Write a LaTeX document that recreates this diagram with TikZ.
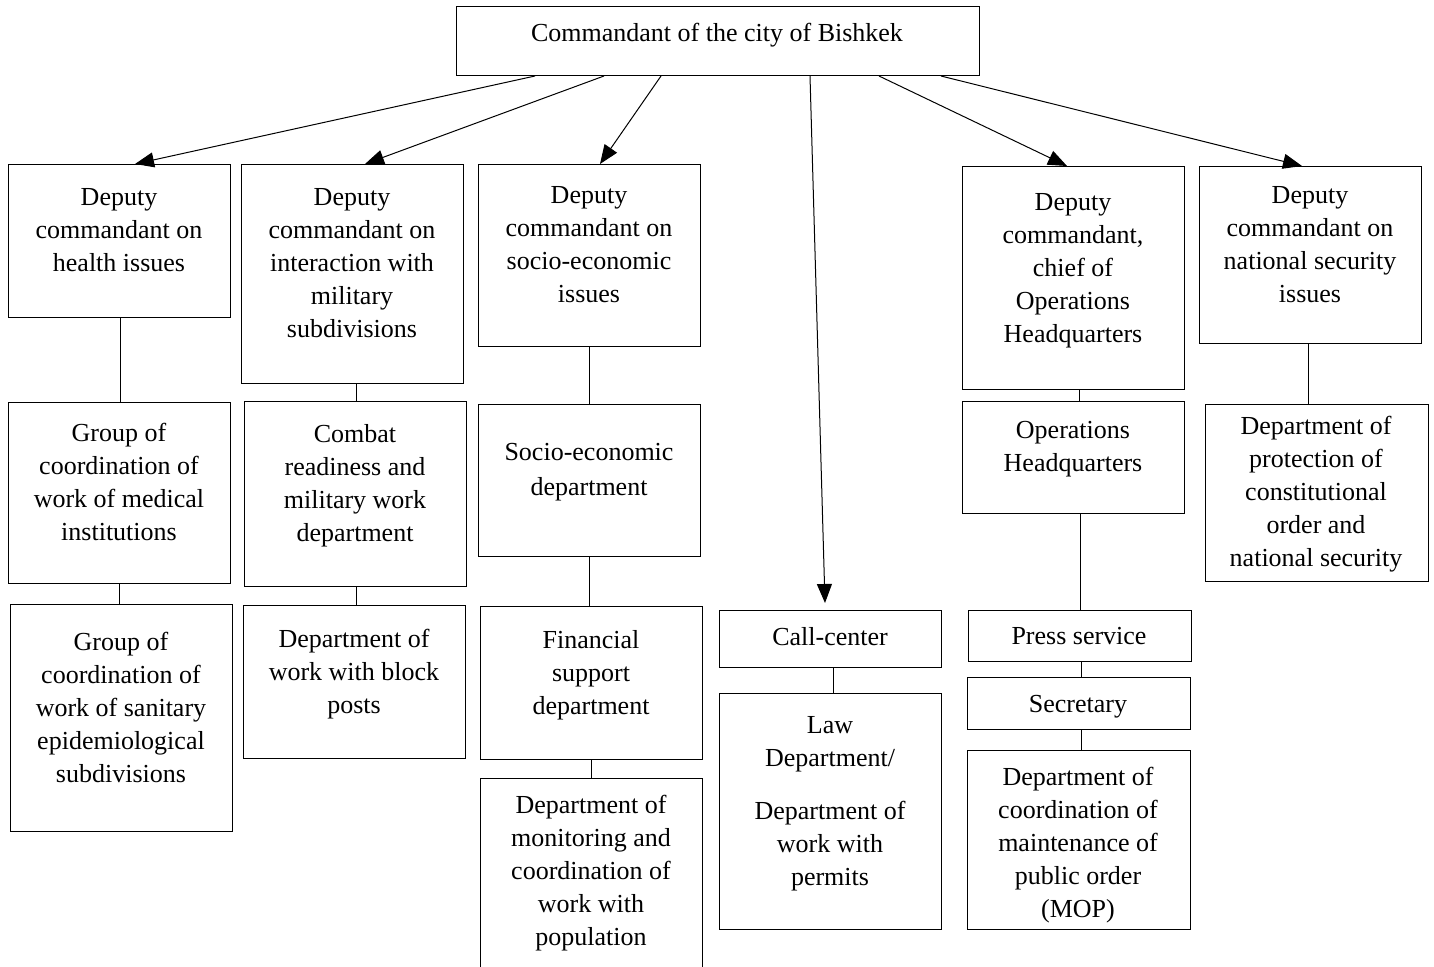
\documentclass[tikz,border=0pt]{standalone}
\usepackage{fontspec}
\setmainfont{Liberation Serif}
\usetikzlibrary{arrows.meta}
\tikzset{
  box/.style={draw=black, line width=1pt, rectangle, inner sep=0pt, anchor=north west},
  txt/.style={align=center, inner sep=0pt, anchor=north, yshift=-2pt, font=\fontsize{26}{33}\selectfont},
  link/.style={draw=black, line width=1pt},
  arr/.style={draw=black, line width=1pt, -{Triangle[length=19pt,width=15pt]}}
}
\newcommand\mkbox[6]{%
  \node[box, minimum width=#4pt, minimum height=#5pt] (#1) at (#2,#3) {};}
\begin{document}
\begin{tikzpicture}[x=1pt,y=-1pt]
\clip (0,0) rectangle (1434,966);
\fill[white] (0,0) rectangle (1434,966);
% boxes: name, x, y, width, height
\mkbox{T}{456}{6}{523}{69}{}
\mkbox{A1}{8}{164}{222}{153}{}
\mkbox{B1}{241}{164}{222}{219}{}
\mkbox{C1}{478}{164}{222}{182}{}
\mkbox{E1}{962}{166}{222}{223}{}
\mkbox{F1}{1199}{166}{222}{177}{}
\mkbox{A2}{8}{402}{222}{181}{}
\mkbox{B2}{244}{401}{222}{185}{}
\mkbox{C2}{478}{404}{222}{152}{}
\mkbox{E2}{962}{401}{222}{112}{}
\mkbox{F2}{1205}{404}{223}{177}{}
\mkbox{A3}{10}{604}{222}{227}{}
\mkbox{B3}{243}{605}{222}{153}{}
\mkbox{C3}{480}{606}{222}{153}{}
\mkbox{C4}{480}{778}{222}{210}{}
\mkbox{D3}{719}{610}{222}{57}{}
\mkbox{D4}{719}{693}{222}{236}{}
\mkbox{E3}{968}{610}{223}{51}{}
\mkbox{S}{967}{677}{223}{52}{}
\mkbox{E4}{967}{750}{223}{179}{}
% texts
\node[txt] (Tt) at (717,21) {Commandant of the city of Bishkek};
\node[txt] (A1t) at (119,186) {Deputy\\commandant on\\health issues};
\node[txt] (B1t) at (352,186) {Deputy\\commandant on\\interaction with\\military\\subdivisions};
\node[txt] (C1t) at (589,184) {Deputy\\commandant on\\socio-economic\\issues};
\node[txt] (E1t) at (1073,191) {Deputy\\commandant,\\chief of\\Operations\\Headquarters};
\node[txt] (F1t) at (1310,184) {Deputy\\commandant on\\national security\\issues};
\node[txt] (A2t) at (119,421) {Group of\\coordination of\\work of medical\\institutions};
\node[txt] (B2t) at (355,422) {Combat\\readiness and\\military work\\department};
\node[txt] (C2t) at (589,441) {Socio-economic\\[2pt]department};
\node[txt] (E2t) at (1073,419) {Operations\\Headquarters};
\node[txt] (F2t) at (1316,414) {Department of\\protection of\\constitutional\\order and\\national security};
\node[txt] (A3t) at (121,630) {Group of\\coordination of\\work of sanitary\\epidemiological\\subdivisions};
\node[txt] (B3t) at (354,627) {Department of\\work with block\\posts};
\node[txt] (C3t) at (591,628) {Financial\\support\\department};
\node[txt] (C4t) at (591,793) {Department of\\monitoring and\\coordination of\\work with\\population};
\node[txt] (D3t) at (830,625) {Call-center};
\node[txt] (D4t) at (830,714) {Law\\Department/\\[20pt]Department of\\work with\\permits};
\node[txt] (E3t) at (1079,625) {Press service};
\node[txt] (St) at (1078,693) {Secretary};
\node[txt] (E4t) at (1078,765) {Department of\\coordination of\\maintenance of\\public order\\(MOP)};
% arrows from the commandant
\draw[arr] ([xshift=79pt]T.south west) -- ([xshift=127pt]A1.north west);
\draw[arr] ([xshift=148pt]T.south west) -- ([xshift=124pt]B1.north west);
\draw[arr] ([xshift=205pt]T.south west) -- ([xshift=122pt]C1.north west);
\draw[arr] ([xshift=354pt]T.south west) -- ([xshift=106pt,yshift=7pt]D3.north west);
\draw[arr] ([xshift=423pt]T.south west) -- ([xshift=105pt]E1.north west);
\draw[arr] ([xshift=485pt]T.south west) -- ([xshift=103pt]F1.north west);
% vertical links
\draw[link] ([xshift=1pt]A1.south) -- ([xshift=1pt]A1.south |- A2.north);
\draw[link] (A2.south) -- (A2.south |- A3.north);
\draw[link] ([xshift=4pt]B1.south) -- ([xshift=4pt]B1.south |- B2.north);
\draw[link] ([xshift=1pt]B2.south) -- ([xshift=1pt]B2.south |- B3.north);
\draw[link] (C1.south) -- (C1.south |- C2.north);
\draw[link] (C2.south) -- (C2.south |- C3.north);
\draw[link] (C3.south) -- (C3.south |- C4.north);
\draw[link] ([xshift=3pt]D3.south) -- ([xshift=3pt]D3.south |- D4.north);
\draw[link] ([xshift=6pt]E1.south) -- ([xshift=6pt]E1.south |- E2.north);
\draw[link] (E2.south -| E3.north) -- (E3.north);
\draw[link] ([xshift=1pt]E3.south) -- ([xshift=1pt]E3.south |- S.north);
\draw[link] ([xshift=2pt]S.south) -- ([xshift=2pt]S.south |- E4.north);
\draw[link] ([xshift=-2pt]F1.south) -- ([xshift=-2pt]F1.south |- F2.north);
\end{tikzpicture}
\end{document}
